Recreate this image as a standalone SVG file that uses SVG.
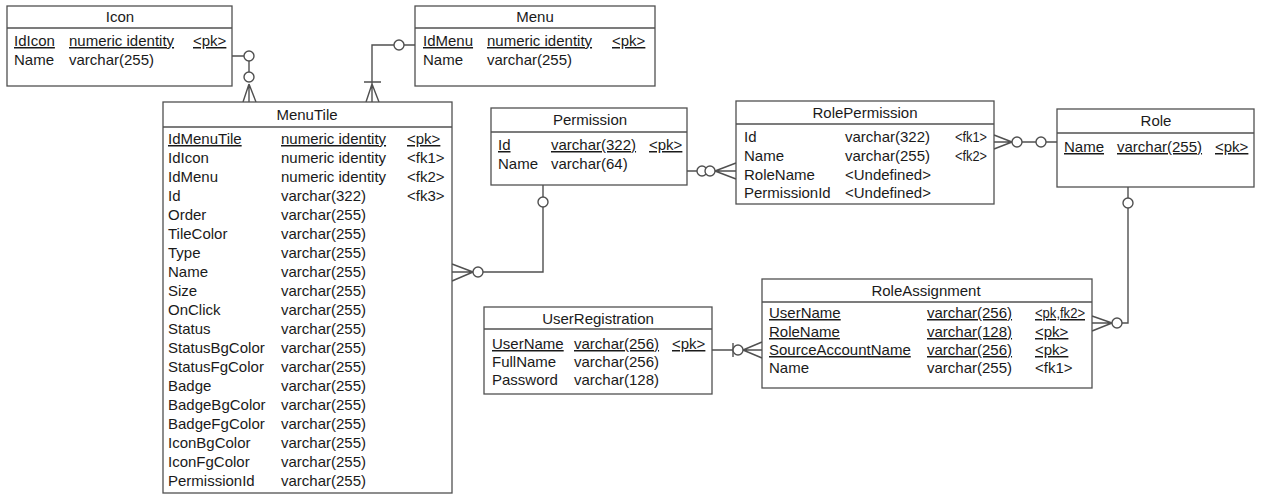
<svg xmlns="http://www.w3.org/2000/svg" width="1263" height="495" viewBox="0 0 1263 495">
<style>
.box{fill:#fff;stroke:#505050;stroke-width:1.3}
.sep{stroke:#505050;stroke-width:1.3}
text{font-family:"Liberation Sans",Arial,sans-serif;font-size:15px;fill:#1a1a1a}
.t{text-anchor:middle}
.u{text-decoration:underline}
.c{fill:none;stroke:#505050;stroke-width:1.4}
.o{fill:#fff;stroke:#505050;stroke-width:1.4}
</style>
<rect width="1263" height="495" fill="#fff"/>
<g id="connectors">
<path class="c" d="M232,56 H244 M249,61 V72 M249,84 V102 M249,84 L243,102 M249,84 L256,102"/>
<circle class="o" cx="249" cy="56" r="5"/>
<circle class="o" cx="249" cy="77" r="5"/>
<path class="c" d="M415,45 H404 M394,45 H372 V102 M364,82 H381 M372,84 L366,102 M372,84 L379,102"/>
<circle class="o" cx="399" cy="45" r="5"/>
<path class="c" d="M543,185 V197 M543,207 V272 H483 M452,272 H473 M452,264 L473,272 M452,281 L473,272"/>
<circle class="o" cx="478" cy="272" r="5"/>
<circle class="o" cx="543" cy="202" r="5"/>
<path class="c" d="M687,171 H697 M715,171 H736 M736,163 L715,171 M736,179 L715,171"/>
<circle class="o" cx="702" cy="171" r="5"/>
<circle class="o" cx="710" cy="171" r="5"/>
<path class="c" d="M994,142 H1012 M994,135 L1012,142 M994,149 L1012,142 M1022,142 H1036 M1046,142 H1057"/>
<circle class="o" cx="1017" cy="142" r="5"/>
<circle class="o" cx="1041" cy="142" r="5"/>
<path class="c" d="M1128,187 V198 M1128,208 V323 H1122 M1092,323 H1112 M1092,316 L1112,323 M1092,331 L1112,323"/>
<circle class="o" cx="1117" cy="323" r="5"/>
<circle class="o" cx="1128" cy="203" r="5"/>
<path class="c" d="M712,350 H733 M733,343 V357 M743,350 H762 M762,342 L743,350 M762,358 L743,350"/>
<circle class="o" cx="738" cy="350" r="5"/>
</g>
<g id="Icon">
<rect class="box" x="7" y="6" width="225" height="80"/>
<line class="sep" x1="7" y1="28" x2="232" y2="28"/>
<text class="t" x="120" y="22">Icon</text>
<text class="u" x="14" y="46">IdIcon</text><text class="u" x="69" y="46">numeric identity</text><text class="u" x="193" y="46">&lt;pk&gt;</text>
<text x="14" y="65">Name</text><text x="69" y="65">varchar(255)</text>
</g>
<g id="Menu">
<rect class="box" x="415" y="6" width="240" height="80"/>
<line class="sep" x1="415" y1="28" x2="655" y2="28"/>
<text class="t" x="535" y="22">Menu</text>
<text class="u" x="423" y="46">IdMenu</text><text class="u" x="487" y="46">numeric identity</text><text class="u" x="612" y="46">&lt;pk&gt;</text>
<text x="423" y="65">Name</text><text x="487" y="65">varchar(255)</text>
</g>
<g id="MenuTile">
<rect class="box" x="163" y="102" width="289" height="391"/>
<line class="sep" x1="163" y1="127" x2="452" y2="127"/>
<text class="t" x="307" y="120">MenuTile</text>
<text class="u" x="168" y="144">IdMenuTile</text><text class="u" x="281" y="144">numeric identity</text><text class="u" x="407" y="144">&lt;pk&gt;</text>
<text x="168" y="163">IdIcon</text><text x="281" y="163">numeric identity</text><text x="407" y="163">&lt;fk1&gt;</text>
<text x="168" y="182">IdMenu</text><text x="281" y="182">numeric identity</text><text x="407" y="182">&lt;fk2&gt;</text>
<text x="168" y="201">Id</text><text x="281" y="201">varchar(322)</text><text x="407" y="201">&lt;fk3&gt;</text>
<text x="168" y="220">Order</text><text x="281" y="220">varchar(255)</text>
<text x="168" y="239">TileColor</text><text x="281" y="239">varchar(255)</text>
<text x="168" y="258">Type</text><text x="281" y="258">varchar(255)</text>
<text x="168" y="277">Name</text><text x="281" y="277">varchar(255)</text>
<text x="168" y="296">Size</text><text x="281" y="296">varchar(255)</text>
<text x="168" y="315">OnClick</text><text x="281" y="315">varchar(255)</text>
<text x="168" y="334">Status</text><text x="281" y="334">varchar(255)</text>
<text x="168" y="353">StatusBgColor</text><text x="281" y="353">varchar(255)</text>
<text x="168" y="372">StatusFgColor</text><text x="281" y="372">varchar(255)</text>
<text x="168" y="391">Badge</text><text x="281" y="391">varchar(255)</text>
<text x="168" y="410">BadgeBgColor</text><text x="281" y="410">varchar(255)</text>
<text x="168" y="429">BadgeFgColor</text><text x="281" y="429">varchar(255)</text>
<text x="168" y="448">IconBgColor</text><text x="281" y="448">varchar(255)</text>
<text x="168" y="467">IconFgColor</text><text x="281" y="467">varchar(255)</text>
<text x="168" y="486">PermissionId</text><text x="281" y="486">varchar(255)</text>
</g>
<g id="Permission">
<rect class="box" x="491" y="108" width="196" height="77"/>
<line class="sep" x1="491" y1="132" x2="687" y2="132"/>
<text class="t" x="590" y="125">Permission</text>
<text class="u" x="498" y="150">Id</text><text class="u" x="551" y="150">varchar(322)</text><text class="u" x="649" y="150">&lt;pk&gt;</text>
<text x="498" y="169">Name</text><text x="551" y="169">varchar(64)</text>
</g>
<g id="RolePermission">
<rect class="box" x="736" y="101" width="258" height="103"/>
<line class="sep" x1="736" y1="124" x2="994" y2="124"/>
<text class="t" x="865" y="118">RolePermission</text>
<text x="744" y="142">Id</text><text x="845" y="142">varchar(322)</text><text x="955" y="142" textLength="32" lengthAdjust="spacingAndGlyphs">&lt;fk1&gt;</text>
<text x="744" y="161">Name</text><text x="845" y="161">varchar(255)</text><text x="955" y="161" textLength="32" lengthAdjust="spacingAndGlyphs">&lt;fk2&gt;</text>
<text x="744" y="180">RoleName</text><text x="845" y="180">&lt;Undefined&gt;</text>
<text x="744" y="198">PermissionId</text><text x="845" y="198">&lt;Undefined&gt;</text>
</g>
<g id="Role">
<rect class="box" x="1057" y="109" width="197" height="78"/>
<line class="sep" x1="1057" y1="133" x2="1254" y2="133"/>
<text class="t" x="1156" y="126">Role</text>
<text class="u" x="1064" y="152">Name</text><text class="u" x="1117" y="152">varchar(255)</text><text class="u" x="1215" y="152">&lt;pk&gt;</text>
</g>
<g id="RoleAssignment">
<rect class="box" x="762" y="279" width="330" height="109"/>
<line class="sep" x1="762" y1="302" x2="1092" y2="302"/>
<text class="t" x="926" y="296">RoleAssignment</text>
<text class="u" x="769" y="318">UserName</text><text class="u" x="927" y="318">varchar(256)</text><text class="u" x="1035" y="318" textLength="50" lengthAdjust="spacingAndGlyphs">&lt;pk,fk2&gt;</text>
<text class="u" x="769" y="337">RoleName</text><text class="u" x="927" y="337">varchar(128)</text><text class="u" x="1035" y="337">&lt;pk&gt;</text>
<text class="u" x="769" y="355">SourceAccountName</text><text class="u" x="927" y="355">varchar(256)</text><text class="u" x="1035" y="355">&lt;pk&gt;</text>
<text x="769" y="373">Name</text><text x="927" y="373">varchar(255)</text><text x="1035" y="373">&lt;fk1&gt;</text>
</g>
<g id="UserRegistration">
<rect class="box" x="484" y="307" width="228" height="87"/>
<line class="sep" x1="484" y1="329" x2="712" y2="329"/>
<text class="t" x="598" y="324">UserRegistration</text>
<text class="u" x="492" y="349">UserName</text><text class="u" x="574" y="349">varchar(256)</text><text class="u" x="672" y="349">&lt;pk&gt;</text>
<text x="492" y="367">FullName</text><text x="574" y="367">varchar(256)</text>
<text x="492" y="385">Password</text><text x="574" y="385">varchar(128)</text>
</g>
</svg>
